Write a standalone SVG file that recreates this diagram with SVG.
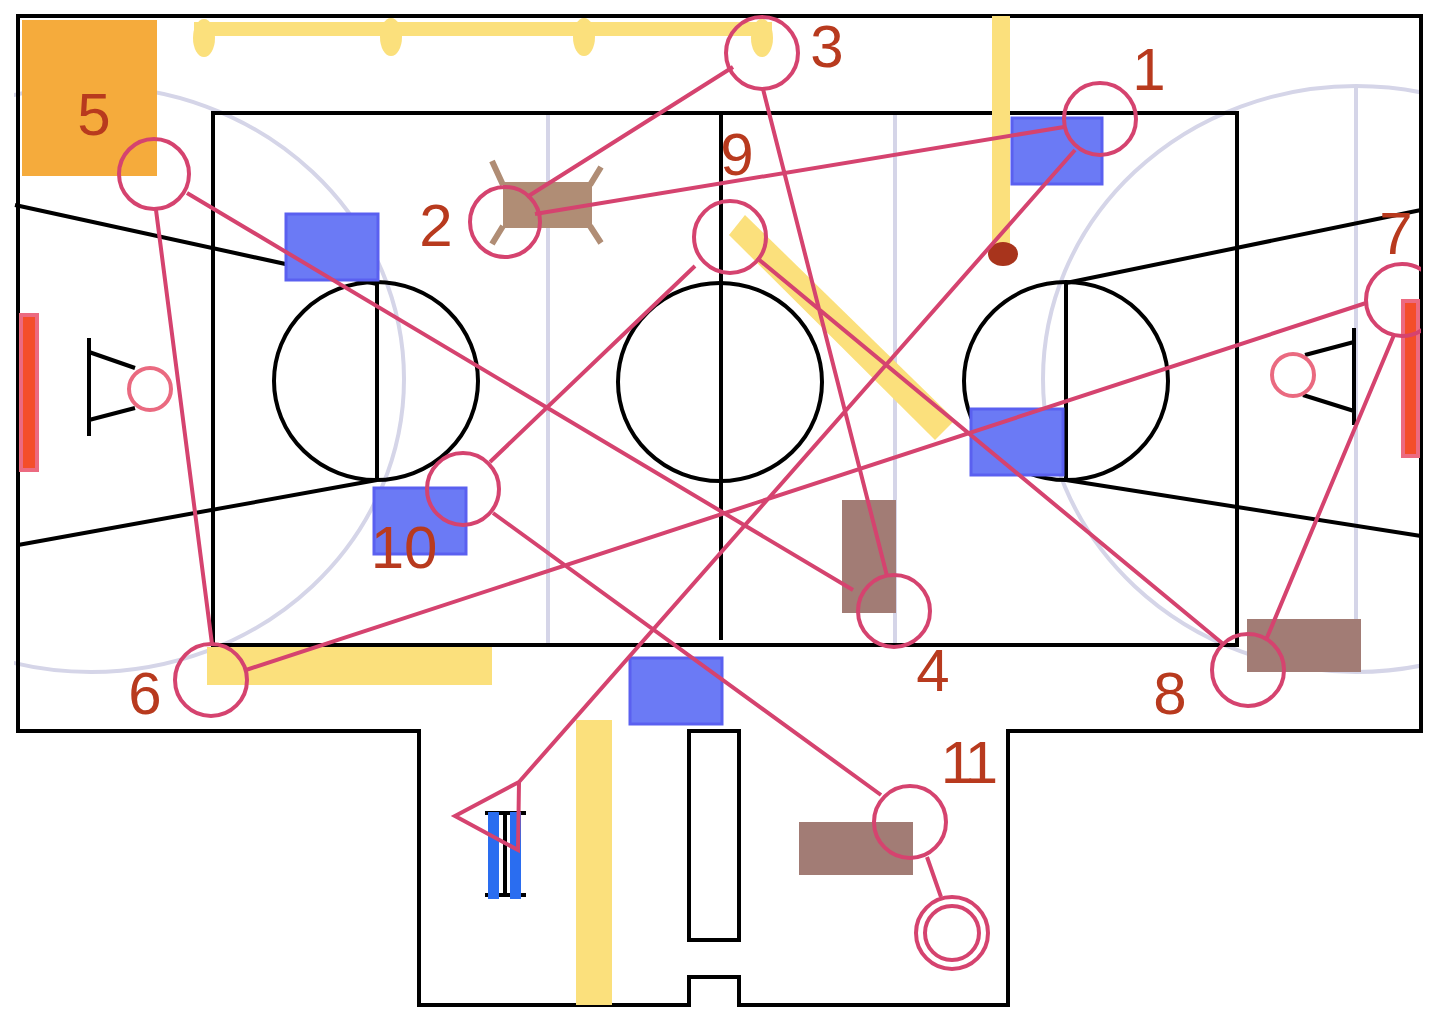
<svg xmlns="http://www.w3.org/2000/svg" width="1434" height="1022" viewBox="0 0 1434 1022">
<style>
.k{fill:none;stroke:#000;stroke-width:4}
.g{fill:none;stroke:#d5d5e8;stroke-width:4}
.y{fill:#fbe07c}
.b{fill:#6b7af5;stroke:#5a60f0;stroke-width:3}
.br{fill:#a27c75}
.c{fill:none;stroke:#d5436f;stroke-width:4}
.n{fill:none;stroke:#d5436f;stroke-width:4}
.h{fill:none;stroke:#ea6a80;stroke-width:4}
.r{fill:#f44e2a;stroke:#ec6a80;stroke-width:4}
text{font-family:"Liberation Sans",Arial,sans-serif;font-size:60px;fill:#b83a1e;text-anchor:middle}
</style>
<defs><clipPath id="cp"><rect x="14" y="0" width="1407" height="1022"/></clipPath></defs>
<rect width="1434" height="1022" fill="#fff"/>
<g id="court">
<g clip-path="url(#cp)"><ellipse class="g" cx="91" cy="379" rx="313" ry="293"/><ellipse class="g" cx="1356" cy="379" rx="313" ry="293"/></g>
<path class="g" d="M548 113V645M895 113V645M1356 85V672"/>
<path class="k" d="M18 16H1421V731H1008V1005H739V977H689V1005H419V731H18Z"/>
<rect class="k" x="213" y="113" width="1024" height="532"/>
<path class="k" d="M721 113V640M377 283V480M1066 283V480M15 205L377 284M18 545L377 480M1066 283L1421 210M1066 480L1421 536"/>
<ellipse class="k" cx="720" cy="382" rx="102" ry="99"/><ellipse class="k" cx="376" cy="381" rx="102" ry="99"/><ellipse class="k" cx="1066" cy="381" rx="102" ry="99"/>
<path class="k" d="M89 338V436M89 352L135 368M89 420L135 408M1354 328V425M1354 342L1305 355M1354 411L1303 395"/>
<rect class="k" x="689" y="731" width="50" height="209"/>
</g>
<g id="furniture">
<rect x="22" y="20" width="135" height="156" fill="#f5ab3c"/>
<rect class="y" x="194" y="22" width="578" height="14"/>
<ellipse class="y" cx="204" cy="38" rx="11" ry="19"/><ellipse class="y" cx="391" cy="37" rx="11" ry="19"/><ellipse class="y" cx="584" cy="37" rx="11" ry="19"/><ellipse class="y" cx="762" cy="38" rx="11" ry="19"/>
<rect class="y" x="992" y="16" width="18" height="230"/>
<ellipse cx="1003" cy="254" rx="15" ry="12" fill="#a8341c"/>
<path class="y" d="M745 215L955 420L935 440L729 235Z"/>
<rect class="y" x="207" y="647" width="285" height="38"/>
<rect class="y" x="576" y="720" width="36" height="285"/>
<rect class="b" x="286" y="214" width="92" height="66"/><rect class="b" x="374" y="488" width="92" height="66"/><rect class="b" x="1012" y="118" width="90" height="66"/><rect class="b" x="971" y="409" width="92" height="66"/><rect class="b" x="630" y="658" width="92" height="66"/>
<rect class="br" x="842" y="500" width="54" height="113"/><rect class="br" x="1247" y="619" width="114" height="53"/><rect class="br" x="799" y="822" width="114" height="53"/>
<rect x="503" y="182" width="89" height="46" fill="#b08d75"/>
<path d="M503 185L492 161M590 185L601 167M503 226L492 244M590 226L601 243" fill="none" stroke="#b08d75" stroke-width="6"/>
<rect class="r" x="21" y="315" width="16" height="155"/><rect class="r" x="1403" y="301" width="15" height="155"/>
<path d="M485 813H526M485 895H526M505 813V895" fill="none" stroke="#000" stroke-width="4"/>
<rect x="488" y="812" width="11" height="87" fill="#2a6df0"/><rect x="510" y="812" width="11" height="87" fill="#2a6df0"/>
<circle class="h" cx="150" cy="389" r="21"/><circle class="h" cx="1293" cy="375" r="21"/>
</g>
<g id="connectors">
<path class="c" d="M1064 127L535 214M527 197L733 67M763 89L887 576M853 590L187 193M156 210L212 644M246 670L1366 303M1394 335L1266 640M1222 643L757 258M695 266L490 462M493 513L881 795M927 857L941 897M1075 150L519 782L455 816L518 850L519 782"/>
</g>
<g id="n1"><circle class="n" cx="1100" cy="119" r="36"/><text x="1149" y="90">1</text></g>
<g id="n2"><circle class="n" cx="505" cy="222" r="35"/><text x="436" y="246">2</text></g>
<g id="n3"><circle class="n" cx="762" cy="53" r="36"/><text x="827" y="67">3</text></g>
<g id="n4"><circle class="n" cx="894" cy="611" r="36"/><text x="933" y="691">4</text></g>
<g id="n5"><circle class="n" cx="154" cy="174" r="35"/><text x="94" y="135">5</text></g>
<g id="n6"><circle class="n" cx="211" cy="680" r="36"/><text x="145" y="714">6</text></g>
<g id="n7"><g clip-path="url(#cp)"><circle class="n" cx="1402" cy="300" r="36"/></g><text x="1396" y="254">7</text></g>
<g id="n8"><circle class="n" cx="1248" cy="670" r="36"/><text x="1170" y="714">8</text></g>
<g id="n9"><circle class="n" cx="730" cy="237" r="36"/><text x="737" y="175">9</text></g>
<g id="n10"><circle class="n" cx="463" cy="489" r="36"/><text x="404" y="568">10</text></g>
<g id="n11"><circle class="n" cx="910" cy="822" r="36"/><text x="967" y="783" letter-spacing="-5">11</text></g>
<g id="end"><circle class="n" cx="952" cy="933" r="36"/><circle class="n" cx="952" cy="933" r="27"/></g>
</svg>
